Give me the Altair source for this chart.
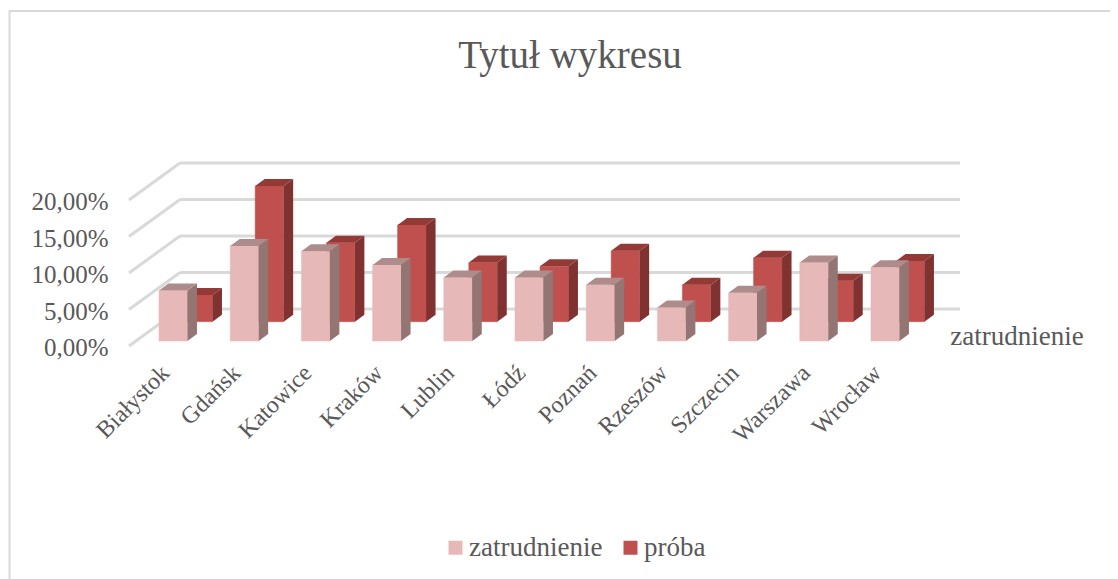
import altair as alt
import pandas as pd

cities = ["Białystok", "Gdańsk", "Katowice", "Kraków", "Lublin", "Łódź", "Poznań", "Rzeszów", "Szczecin", "Warszawa", "Wrocław"]
zatrudnienie = [6.9, 13.0, 12.3, 10.4, 8.7, 8.7, 7.7, 4.6, 6.6, 10.75, 10.1]
proba = [3.66, 18.6, 10.8, 13.25, 8.1, 7.6, 9.7, 5.07, 8.75, 5.6, 8.3]
series_names = ["zatrudnienie", "próba"]
gridlines = [0, 5, 10, 15, 20]

W, H = 1102, 571
FONT = "Liberation Serif"
TXT = "#595959"
# scales: one category = 1 x unit, value axis in percent
xs = alt.Scale(domain=[-2.3209, 13.1572], range=[0, W], nice=False, zero=False)
ys = alt.Scale(domain=[-31.92, 46.30], range=[H, 0], nice=False, zero=False)

BAR_HALF = 0.2
SIDE_X, SIDE_Y = 0.1334, 0.959      # bar depth projection
BACK_X = 0.351                      # second series shift
BASE_FRONT, BASE_BACK = 0.685, 3.33
WALL_X0, WALL_X1, WALL_Y = 0.0948, 11.05, 5.07
FLOOR_X0 = -0.6215

label_expr = "[" + ",".join(f"'{c}'" for c in cities) + "][datum.value]"
xaxis = alt.Axis(
    values=list(range(len(cities))), labelExpr=label_expr, labelAngle=-45, labelAlign="right", labelBaseline="middle",
    labelFont=FONT, labelFontSize=24, labelColor=TXT, ticks=False, domain=False, grid=False, title=None,
    offset=-210, labelOffset=-8, labelPadding=0, labelOverlap=False, labelBound=False, labelFlush=False)
yaxis = alt.Axis(
    values=gridlines, labelExpr="replace(format(datum.value,'.2f'),'.',',')+'%'",
    labelFont=FONT, labelFontSize=25, labelColor=TXT, ticks=False, domain=False, grid=False, title=None,
    offset=-100, labelOffset=2, labelPadding=0)


def faces(values, shift, base):
    rect, side, top = [], [], []
    for i, (c, v) in enumerate(zip(cities, values)):
        l, r = i - BAR_HALF + shift, i + BAR_HALF + shift
        t, b = base + v, base
        rect.append(dict(city=c, l=l, r=r, t=t, b=b))
        side += [dict(city=c, x=r, y=t, y2=b), dict(city=c, x=r + SIDE_X, y=t + SIDE_Y, y2=b + SIDE_Y)]
        top += [dict(city=c, x=l, y=t, y2=t), dict(city=c, x=l + SIDE_X, y=t + SIDE_Y, y2=t),
                dict(city=c, x=r, y=t + SIDE_Y, y2=t), dict(city=c, x=r + SIDE_X, y=t + SIDE_Y, y2=t + SIDE_Y)]
    return pd.DataFrame(rect), pd.DataFrame(side), pd.DataFrame(top)


def bar_layers(values, shift, base, face, side_c, top_c, name=None):
    rect, side, top = faces(values, shift, base)
    rect["series"] = name
    color_enc = alt.Color("series:N", scale=alt.Scale(domain=series_names, range=["#E6B9B8", "#C0504D"]),
                          legend=alt.Legend(title=None, orient="none", legendX=434, legendY=526, direction="horizontal",
                                            symbolType="square", symbolSize=196, symbolStrokeWidth=0, labelFont=FONT,
                                            labelFontSize=27, labelColor=TXT, columnPadding=14, labelOffset=0))
    r = alt.Chart(rect).mark_rect(stroke=face, strokeWidth=0.5).encode(
        x=alt.X("l:Q", scale=xs, axis=xaxis), x2="r:Q",
        y=alt.Y("t:Q", scale=ys, axis=yaxis), y2="b:Q", color=color_enc)
    s = alt.Chart(side).mark_area(color=side_c, orient="vertical").encode(
        x=alt.X("x:Q", scale=xs, axis=xaxis), y=alt.Y("y:Q", scale=ys, axis=yaxis, stack=None), y2="y2:Q", detail="city:N")
    p = alt.Chart(top).mark_area(color=top_c, orient="vertical").encode(
        x=alt.X("x:Q", scale=xs, axis=xaxis), y=alt.Y("y:Q", scale=ys, axis=yaxis, stack=None), y2="y2:Q", detail="city:N")
    return [r, s, p]


grid_df = pd.DataFrame({"v": gridlines})
grid_df["x0"] = WALL_X0
grid_df["x1"] = WALL_X1
grid_df["vw"] = grid_df["v"] + WALL_Y
grid_df["fx"] = FLOOR_X0

wall = alt.Chart(grid_df).mark_rule(color="#d9d9d9", strokeWidth=3).encode(
    x=alt.X("x0:Q", scale=xs, axis=xaxis), x2="x1:Q",
    y=alt.Y("vw:Q", scale=ys, axis=yaxis))

floor = alt.Chart(grid_df).mark_rule(color="#d9d9d9", strokeWidth=3).encode(
    x=alt.X("fx:Q", scale=xs, axis=xaxis), x2="x0:Q",
    y=alt.Y("v:Q", scale=ys, axis=yaxis), y2="vw:Q")

series_label = alt.Chart(pd.DataFrame({"t": [series_names[0]], "x": [11.85], "y": [1.2]})).mark_text(
    font=FONT, fontSize=27, color=TXT, align="center", baseline="middle").encode(
    x=alt.X("x:Q", scale=xs, axis=xaxis), y=alt.Y("y:Q", scale=ys, axis=yaxis), text="t:N")

frame_top = alt.Chart(pd.DataFrame({"a": [0]})).mark_rule(color="#d9d9d9", strokeWidth=2).encode(
    x=alt.value(1), x2=alt.value(W), y=alt.value(3))
frame_left = alt.Chart(pd.DataFrame({"a": [0]})).mark_rule(color="#d9d9d9", strokeWidth=2).encode(
    x=alt.value(1.5), y=alt.value(3), y2=alt.value(H))

layers = [frame_top, frame_left, wall, floor]
layers += bar_layers(proba, BACK_X, BASE_BACK, "#C0504D", "#7F322F", "#933A37", series_names[1])
layers += bar_layers(zatrudnienie, 0, BASE_FRONT, "#E6B9B8", "#937574", "#AE8C8B", series_names[0])
layers += [series_label]

chart = alt.layer(*layers).resolve_scale(x="shared", y="shared").properties(
    width=W, height=H, padding=0, autosize=alt.AutoSizeParams(type="none"),
    title=alt.TitleParams("Tytuł wykresu", anchor="middle", offset=-68, font=FONT, fontSize=39, fontWeight="normal", color=TXT, dx=11),
).configure_view(stroke=None)

chart.save("out.html", embed_options={"renderer": "svg", "actions": False})
